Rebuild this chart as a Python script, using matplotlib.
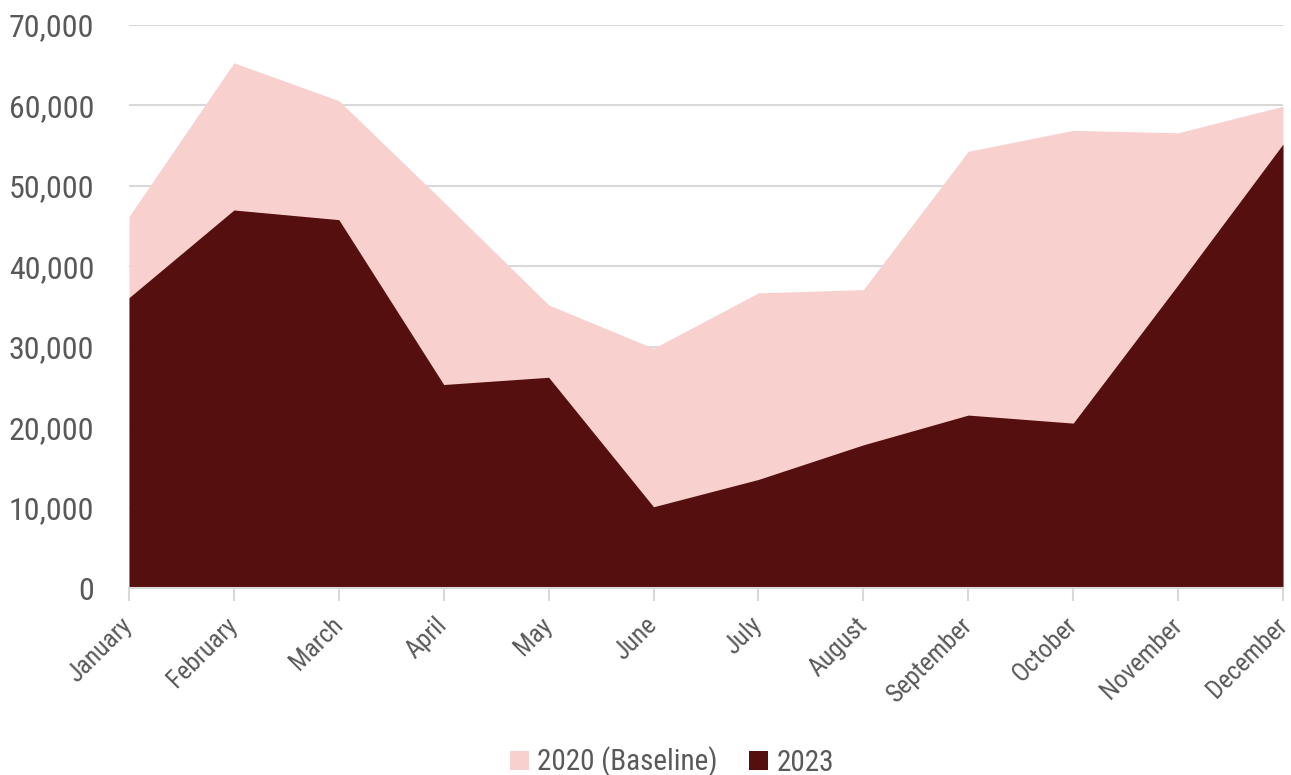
import matplotlib
matplotlib.use("Agg")
import matplotlib.pyplot as plt
from matplotlib.ticker import FuncFormatter, MultipleLocator
from matplotlib.patches import Patch
from matplotlib import font_manager

months = ["January", "February", "March", "April", "May", "June", "July",
          "August", "September", "October", "November", "December"]
baseline_2020 = [46200, 65300, 60600, 48000, 35200, 29800, 36700, 37100,
                 54300, 56900, 56600, 59900]
values_2023 = [36100, 47000, 45800, 25300, 26200, 10100, 13500, 17800,
               21500, 20500, 37700, 55200]
series_labels = ["2020 (Baseline)", "2023"]

pink = "#F8D1CF"
dark = "#550F0E"
txt = "#595959"
grid = "#D9D9D9"

# look for a condensed face among installed fonts
names = {f.name for f in font_manager.fontManager.ttflist}
condensed = [n for n in ['Roboto Condensed', 'Open Sans Condensed',
                         'Liberation Sans Narrow', 'DejaVu Sans Condensed']
             if n in names]
cond_faces = [f for f in font_manager.fontManager.ttflist
              if f.stretch in ('condensed', 'semi-condensed', 'extra-condensed')
              or (isinstance(f.stretch, int) and f.stretch < 500)]
if condensed:
    family = [condensed[0], 'DejaVu Sans']
    scale = 1.0
elif cond_faces:
    family = [cond_faces[0].name, 'DejaVu Sans']
    scale = 1.0
else:
    family = ['Roboto', 'DejaVu Sans']
    scale = 0.9
plt.rcParams['font.family'] = family
plt.rcParams['font.stretch'] = 'condensed'

fig = plt.figure(figsize=(12.91, 7.75), dpi=100)
ax = fig.add_axes([129/1291, (775-588)/775, (1283-129)/1291, (588-25)/775])

x = list(range(len(months)))
ax.fill_between(x, 0, baseline_2020, color=pink, linewidth=0, zorder=2)
ax.fill_between(x, 0, values_2023, color=dark, linewidth=0, zorder=3)

ax.set_xlim(0, len(months) - 1)
ax.set_ylim(0, 70000)
ax.yaxis.set_major_locator(MultipleLocator(10000))
ax.yaxis.set_major_formatter(FuncFormatter(lambda v, p: f"{int(v):,}"))
ax.grid(axis='y', color=grid, linewidth=1.5, zorder=1)
ax.set_axisbelow(True)

for s in ['top', 'right', 'left']:
    ax.spines[s].set_visible(False)
ax.spines['bottom'].set_color(grid)
ax.spines['bottom'].set_linewidth(1.5)
ax.spines['bottom'].set_zorder(4)

ax.set_xticks(x)
ax.set_xticklabels(months, rotation=45, ha='right', va='center',
                   rotation_mode='anchor', fontsize=18.5 * scale, color=txt)
ax.tick_params(axis='x', length=9, width=1.5, color=grid, pad=15)
ax.tick_params(axis='y', length=0, pad=25, labelsize=23 * scale, labelcolor=txt)

handles = [Patch(facecolor=pink, edgecolor='none'),
           Patch(facecolor=dark, edgecolor='none')]
fig.legend(handles, series_labels, loc='center', ncol=2,
           bbox_to_anchor=(672/1291, 1 - 762/775), frameon=False,
           fontsize=21 * scale, labelcolor=txt, handlelength=0.65, handleheight=0.65,
           handletextpad=0.3, columnspacing=1.07, borderaxespad=0, borderpad=0)

fig.savefig("out.png", dpi=100, facecolor='white')
